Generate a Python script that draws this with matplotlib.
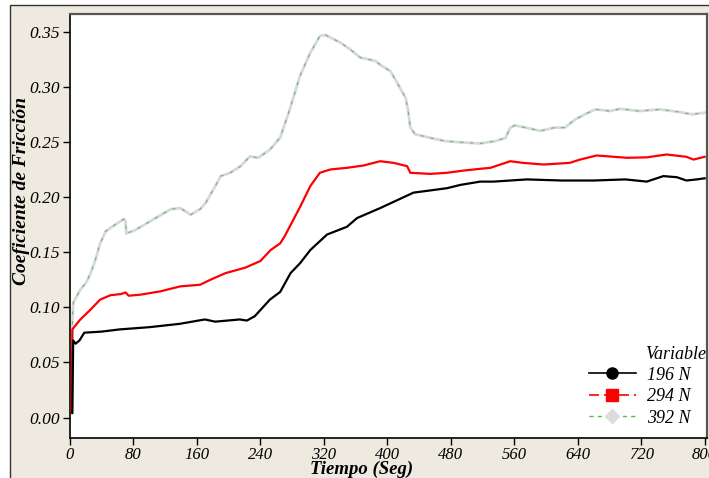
import matplotlib
matplotlib.use("Agg")
from matplotlib import pyplot as plt
from matplotlib.lines import Line2D
from matplotlib.patches import Rectangle
from matplotlib.ticker import FormatStrFormatter

plt.rcParams['font.family'] = ['Liberation Serif', 'DejaVu Serif']

# data
t_196 = [2, 3, 4, 7, 12, 18, 40, 63, 100, 138,
         170, 183, 214, 223, 233, 252, 265, 278, 290, 303,
         324, 349, 362, 391, 433, 475, 492, 517, 534, 576,
         620, 660, 700, 727, 748, 765, 777, 790, 800]
f_196 = [0.005, 0.004, 0.070, 0.067, 0.070, 0.077, 0.078, 0.080, 0.082, 0.085,
         0.089, 0.087, 0.089, 0.088, 0.092, 0.107, 0.114, 0.131, 0.140, 0.152,
         0.166, 0.173, 0.181, 0.190, 0.204, 0.208, 0.211, 0.214, 0.214, 0.216,
         0.215, 0.215, 0.216, 0.214, 0.219, 0.218, 0.215, 0.216, 0.217]

t_294 = [1, 2, 3, 13, 26, 38, 51, 64, 70, 74,
         89, 114, 139, 164, 177, 196, 221, 240, 253, 265,
         271, 290, 303, 315, 328, 349, 370, 391, 408, 425,
         429, 454, 475, 496, 517, 530, 555, 571, 597, 630,
         643, 664, 702, 727, 752, 777, 786, 800]
f_294 = [0.005, 0.007, 0.080, 0.089, 0.098, 0.107, 0.111, 0.112, 0.1135, 0.1105,
         0.1115, 0.1145, 0.119, 0.1205, 0.125, 0.131, 0.136, 0.142, 0.152, 0.158,
         0.165, 0.191, 0.210, 0.222, 0.225, 0.2265, 0.2286, 0.2325, 0.231, 0.228,
         0.222, 0.221, 0.222, 0.224, 0.2256, 0.2265, 0.2325, 0.231, 0.2295, 0.231,
         0.234, 0.2377, 0.2356, 0.236, 0.2386, 0.2365, 0.234, 0.2365]

t_392 = [1, 2, 3, 4, 13, 20, 26, 32, 38, 45,
         57, 68, 70, 71, 82, 101, 127, 139, 152, 164,
         171, 183, 190, 202, 215, 227, 237, 252, 265, 277,
         290, 303, 315, 322, 341, 353, 366, 385, 391, 404,
         410, 416, 423, 426, 429, 435, 454, 473, 492, 517,
         536, 549, 555, 561, 574, 593, 611, 624, 636, 649,
         662, 681, 693, 718, 744, 769, 784, 800]
f_392 = [0.005, 0.004, 0.086, 0.104, 0.116, 0.122, 0.131, 0.143, 0.158, 0.169,
         0.175, 0.180, 0.178, 0.167, 0.170, 0.178, 0.189, 0.190, 0.184, 0.189,
         0.1947, 0.2098, 0.219, 0.222, 0.228, 0.237, 0.2355, 0.243, 0.254, 0.2795,
         0.310, 0.331, 0.346, 0.347, 0.340, 0.334, 0.3265, 0.3234, 0.320, 0.314,
         0.3067, 0.299, 0.290, 0.2795, 0.263, 0.257, 0.2537, 0.2507, 0.2497, 0.2486,
         0.2507, 0.2537, 0.263, 0.265, 0.263, 0.260, 0.263, 0.263, 0.270, 0.275,
         0.2795, 0.278, 0.280, 0.278, 0.2795, 0.277, 0.275, 0.2765]

labels = ['196 N', '294 N', '392 N']
x_ticks = list(range(0, 801, 80))
y_ticks = [0.00, 0.05, 0.10, 0.15, 0.20, 0.25, 0.30, 0.35]

beige = '#eeeae0'
fig = plt.figure(figsize=(7.09, 4.78), dpi=100, facecolor='white')
fig.patches.append(Rectangle((10 / 709, -0.1), 1.1, 1.1 - 5 / 478,
                             transform=fig.transFigure, facecolor=beige,
                             edgecolor='#333333', linewidth=1.0, zorder=-1))
ax = fig.add_axes([70 / 709, 40 / 478, 637 / 709, 424 / 478])

ax.plot(t_392, f_392, color='#d8d8d8', lw=2.0, zorder=2)
ax.plot(t_392, f_392, color='#66bb66', lw=0.8, ls=(0, (3, 6)), zorder=3)
ax.plot(t_294, f_294, color='red', lw=1.6, zorder=4)
ax.plot(t_196, f_196, color='black', lw=1.6, zorder=5)

ax.set_xlim(0, 803)
ax.set_ylim(-0.0185, 0.366)
ax.set_xticks(x_ticks)
ax.set_yticks(y_ticks)
ax.yaxis.set_major_formatter(FormatStrFormatter('%.2f'))
ax.tick_params(direction='out', length=5, width=1, labelsize=12.5)
ax.tick_params(axis='x', pad=1.5, labelsize=12)
ax.tick_params(axis='y', pad=2)
for lab in ax.get_xticklabels() + ax.get_yticklabels():
    lab.set_fontstyle('italic')

for side in ['left', 'bottom']:
    ax.spines[side].set_color('black')
    ax.spines[side].set_linewidth(1.2)
for side in ['top', 'right']:
    ax.spines[side].set_color('#555555')
    ax.spines[side].set_linewidth(1.6)

ax.set_xlabel('Tiempo (Seg)', fontsize=13.5, fontweight='bold', fontstyle='italic')
ax.xaxis.set_label_coords(0.458, -0.054)
ax.set_ylabel('Coeficiente de Fricción', fontsize=14, fontweight='bold', fontstyle='italic')
ax.yaxis.set_label_coords(-0.063, 0.583)

handles = [
    Line2D([], [], color='black', lw=1.2, marker='o', markersize=8),
    Line2D([], [], color='red', lw=1.2, ls=(0, (6, 3)), marker='s', markersize=8),
    Line2D([], [], color='#55b855', lw=1.0, ls=(0, (3, 3)), marker='D',
           markersize=7, markerfacecolor='#dcdcdc', markeredgecolor='#dcdcdc'),
]
ax.legend(handles, labels, loc='lower right', frameon=False,
          prop={'style': 'italic', 'size': 13}, handlelength=2.6,
          labelspacing=0.25, borderaxespad=0.0, handletextpad=0.6,
          bbox_to_anchor=(0.985, 0.01))
ax.text(0.9027, 0.196, 'Variable', transform=ax.transAxes, ha='left',
        va='center', fontsize=13, fontstyle='italic')

fig.savefig('out.png', dpi=100, facecolor=fig.get_facecolor())
